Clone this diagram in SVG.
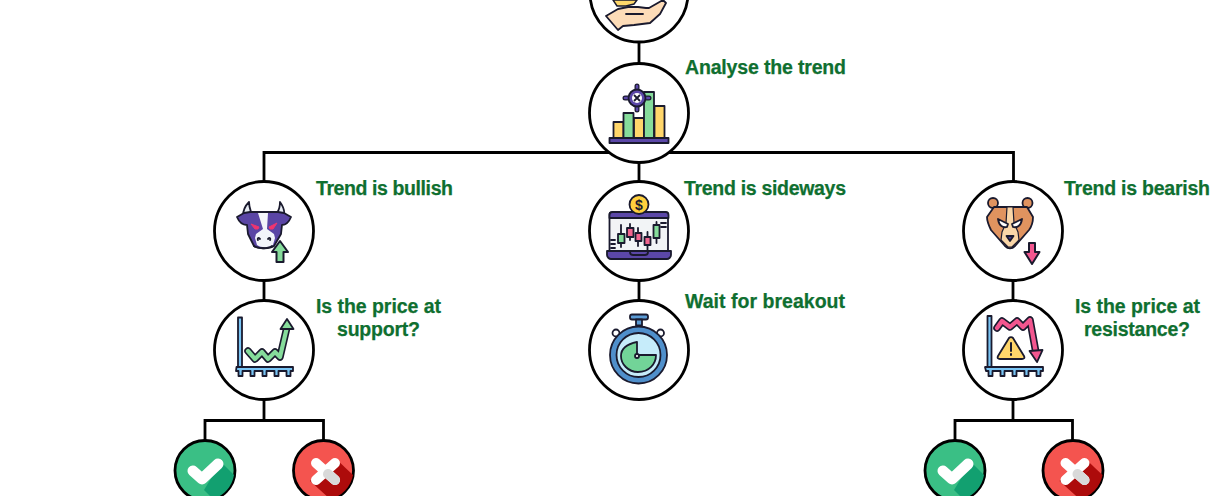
<svg xmlns="http://www.w3.org/2000/svg" width="1224" height="496" viewBox="0 0 1224 496">
<style>
.c{fill:#fff;stroke:#000;stroke-width:2.800}
.l{fill:none;stroke:#000;stroke-width:2.800}
.t{font-family:"Liberation Sans",Arial,sans-serif;font-weight:700;font-size:19.500px;fill:#0f6f30;stroke:#0f6f30;stroke-width:.25}
.o{stroke:#1a1a2e;stroke-width:1.800;stroke-linejoin:round;stroke-linecap:round}
.n{fill:none}
</style>
<rect width="1224" height="496" fill="#fff"/>
<g id="connectors">
<path class="l" d="M639 40V66M639 160V184M264 181V152.500H1013.500V181M264 279V302M639 279V302M1013 279V302M264 398V420M205 446V420.500H323.500V446M1013 398V420M955 446V420.500H1072.500V446"/>
</g>
<g id="node-top">
<circle class="c" cx="639" cy="-7" r="49"/>
<path d="M613 0h24l-3 4-8 2h-9z" fill="#ffd86b" stroke="#1a1a2e" stroke-width="1.500"/>
<path class="o" d="M606 16l12-7 10-2h10l8 1h3l14-8 3 3-6 11-10 9-16 2-11 1-5 4z" fill="#fddcb8"/>
<path class="o n" d="M626 14h17"/>
</g>
<g id="node-analyse">
<circle class="c" cx="639" cy="113" r="49.500"/>
<rect class="o" x="613.500" y="122" width="10" height="17" fill="#ffd66b"/>
<rect class="o" x="623.500" y="113" width="10" height="26" fill="#86dc9b"/>
<rect class="o" x="634" y="118" width="10" height="21" fill="#ffd66b"/>
<rect class="o" x="644" y="92" width="10" height="47" fill="#86dc9b"/>
<rect class="o" x="654.500" y="106" width="10" height="33" fill="#ffd66b"/>
<rect class="o" x="609.500" y="138" width="59" height="5" fill="#5b47a8"/>
<path d="M637 86v24M625 98h24" stroke="#1a1a2e" stroke-width="5" stroke-linecap="round"/>
<path d="M637 86v24M625 98h24" stroke="#5b47a8" stroke-width="2.500" stroke-linecap="round"/>
<circle class="o" cx="637" cy="98" r="8.500" fill="#5b47a8"/>
<circle cx="637" cy="98" r="5" fill="#fff"/>
<path d="M634 95l6 6M640 95l-6 6" stroke="#1a1a2e" stroke-width="1.800"/>
</g>
<g id="node-bullish">
<circle class="c" cx="264" cy="231" r="49.500"/>
<path class="o" d="M243 216c0-6 2-10 6-14 0 4 1 7 2 10l1 5zM277 213c2-3 3-7 3-11 3 4 5 9 4 14l-5 2z" fill="#e9eef5"/>
<path class="o" d="M250 212L278 212 284 213 291 217C289 222 286 225 282 225L281 234 274 246C270 249 258 249 254 246L248 234 247 225C243 225 239 222 237 217L244 213Z" fill="#5a45a5"/>
<path d="M258 213h10l-1 16 7 5 1 4-2 7c-4 3-12 3-16 0l-2-7 1-4 7-5z" fill="#f2f4fa"/>
<path class="o n" d="M254 246c4 3 14 3 18 0M258 240c-1-2 1-3 2-1M268 239c1-2 3-1 2 1"/>
<path d="M251 224l8 3-1 2h-3zM277 223l-8 4 1 2h3z" fill="#f0356f" stroke="#f0356f" stroke-width="1"/>
<path d="M280 241l8 11h-4.500v10h-7v-10H272z" fill="#86dc9b" stroke="#1a1a2e" stroke-width="2" stroke-linejoin="round"/>
</g>
<g id="node-support">
<circle class="c" cx="264" cy="350" r="49.500"/>
<path class="o" d="M238 317.500h4v53h-4z" fill="#79c5f5"/>
<path class="o" d="M236.500 367h56.500v4h-2.500v5h-4v-5h-8v5h-4v-5h-8v5h-4v-5h-8v5h-4v-5h-8v5h-4v-5h-2.500z" fill="#79c5f5"/>
<path class="n" d="M248 351l7 8 7-7 6 7 7-7 5 5 7-30" stroke="#1a1a2e" stroke-width="7.500" stroke-linejoin="round" stroke-linecap="round"/>
<path class="n" d="M248 351l7 8 7-7 6 7 7-7 5 5 7-30" stroke="#86dc9b" stroke-width="4.200" stroke-linejoin="round" stroke-linecap="round"/>
<path class="o" d="M287 319l6.500 10h-13z" fill="#86dc9b"/>
</g>
<g id="node-sideways">
<circle class="c" cx="639" cy="231" r="49.500"/>
<rect class="o" x="609.500" y="212.500" width="58.500" height="40" rx="2" fill="#f2f4f6"/>
<path class="o" d="M609.500 215c0-2 1-3 3-3h53c2 0 3 1 3 3v3h-59z" fill="#5b47a8"/>
<path class="o" d="M607 251h64v4c0 2-2 4-4 4h-56c-2 0-4-2-4-4z" fill="#5b47a8"/>
<path class="o n" d="M630 252c0 2 1 3 3 3h12c2 0 3-1 3-3"/>
<circle class="o" cx="639" cy="204.500" r="9.500" fill="#ffd03d"/>
<text x="639" y="210" text-anchor="middle" font-family="Liberation Sans,sans-serif" font-weight="700" font-size="14" fill="#1a1a2e">$</text>
<path class="o n" d="M621 225v22M630 224v16M638 228v18M647.500 232v18M656.500 222v21M611 240h4M611 244h4M611 248h4M661 223h5M661 227h5"/>
<rect class="o" x="618" y="234" width="6.500" height="9" fill="#86dc9b"/>
<rect class="o" x="627" y="228" width="6.500" height="9" fill="#f2658f"/>
<rect class="o" x="635.500" y="233" width="6" height="8" fill="#f2658f"/>
<rect class="o" x="644.500" y="237" width="6" height="8" fill="#f2658f"/>
<rect class="o" x="653.500" y="225" width="6" height="13" fill="#86dc9b"/>
</g>
<g id="node-breakout">
<circle class="c" cx="639" cy="350" r="49.500"/>
<rect class="o" x="630" y="314.500" width="18" height="5" rx="2" fill="#5b9bd5"/>
<rect class="o" x="636" y="319.500" width="6" height="6" fill="#5b9bd5"/>
<circle class="o" cx="616" cy="333" r="3.500" fill="#fff"/>
<circle class="o" cx="660.500" cy="333" r="3.500" fill="#fff"/>
<circle class="o" cx="638.500" cy="355" r="28.500" fill="#4f8fcb"/>
<circle class="o" cx="638.500" cy="355" r="22" fill="#c6ecfa"/>
<path class="o" d="M637 342v13h19c0 9-7 17-18 17-10 0-17-8-17-16 0-7 6-12 16-14z" fill="#72d498"/>
<circle class="o" cx="637" cy="356" r="2" fill="#fff"/>
</g>
<g id="node-bearish">
<circle class="c" cx="1013" cy="231" r="49.500"/>
<circle class="o" cx="993" cy="203" r="5" fill="#e0935f"/>
<circle class="o" cx="1027.500" cy="203" r="5" fill="#e0935f"/>
<path class="o" d="M994 207h33l6 10c0 5-1 9-4 13l-14 16c-3 3-7 3-10 0l-14-16c-2-4-4-8-4-13z" fill="#e0935f"/>
<path d="M1007 207h6l1 16 4 9 1 8-7 7h-4l-7-7 1-8 4-9z" fill="#fad6a8" stroke="#1a1a2e" stroke-width="1.200" stroke-linejoin="round"/>
<path class="o" d="M998 219l10 5-1 3c-4 1-8-1-9-8zM1022 219l-10 5 1 3c4 1 8-1 9-8z" fill="#fff"/>
<path class="o" d="M1006.500 236h7l-3.500 5z" fill="#473a8f"/>
<path d="M1029 243h6v9h4.500l-7.500 12-7.500-12h4.500z" fill="#f2568f" stroke="#1a1a2e" stroke-width="2" stroke-linejoin="round"/>
</g>
<g id="node-resistance">
<circle class="c" cx="1013" cy="350" r="49.500"/>
<path class="o" d="M987.500 316h4v54h-4z" fill="#79c5f5"/>
<path class="o" d="M985 367h58v4h-2.500v5h-4v-5h-8v5h-4v-5h-8v5h-4v-5h-8v5h-4v-5h-8v5h-4v-5h-2.500z" fill="#79c5f5"/>
<path class="n" d="M997 328l5-7 8 6 7-6 6 6 7-7 6 33" stroke="#1a1a2e" stroke-width="7.500" stroke-linejoin="round" stroke-linecap="round"/>
<path class="n" d="M997 328l5-7 8 6 7-6 6 6 7-7 6 33" stroke="#f2568f" stroke-width="4.200" stroke-linejoin="round" stroke-linecap="round"/>
<path class="o" d="M1029.500 351l13-1-5.500 12z" fill="#f2568f"/>
<path class="o" d="M1009 338l-11 18c-1 2 0 3 2 3h22c2 0 3-1 2-3l-11-18c-1-1-3-1-4 0z" fill="#ffd66b"/>
<path d="M1011 343v8M1011 354v1" stroke="#1a1a2e" stroke-width="2" stroke-linecap="round"/>
</g>
<g id="node-yes-left">
<circle cx="205" cy="470.500" r="30" fill="#3abf85" stroke="#000" stroke-width="2.800"/>
<path d="M204 490l17-28 13 13A30 30 0 0 1 213 499z" fill="#12a070"/>
<path d="M193 471l9 8 16-15" fill="none" stroke="#fff" stroke-width="11" stroke-linecap="round" stroke-linejoin="round"/>
</g>
<g id="node-no-left">
<circle cx="323.500" cy="470.500" r="30" fill="#f4544f" stroke="#000" stroke-width="2.800"/>
<path d="M335 458l18 17a30 30 0 0 1-23 24l-20-18z" fill="#ad0b0b"/>
<path d="M316 463l19 17M335 463l-19 17" fill="none" stroke="#fff" stroke-width="10" stroke-linecap="round"/>
<path d="M328 474l7 6" fill="none" stroke="#d9d9d9" stroke-width="10" stroke-linecap="round"/>
</g>
<g id="node-yes-right">
<circle cx="955" cy="470.500" r="30" fill="#3abf85" stroke="#000" stroke-width="2.800"/>
<path d="M954 490l17-28 13 13A30 30 0 0 1 963 499z" fill="#12a070"/>
<path d="M943 471l9 8 16-15" fill="none" stroke="#fff" stroke-width="11" stroke-linecap="round" stroke-linejoin="round"/>
</g>
<g id="node-no-right">
<circle cx="1073" cy="470.500" r="30" fill="#f4544f" stroke="#000" stroke-width="2.800"/>
<path d="M1084.500 458l18 17a30 30 0 0 1-23 24l-20-18z" fill="#ad0b0b"/>
<path d="M1065.500 463l19 17M1084.500 463l-19 17" fill="none" stroke="#fff" stroke-width="10" stroke-linecap="round"/>
<path d="M1077.500 474l7 6" fill="none" stroke="#d9d9d9" stroke-width="10" stroke-linecap="round"/>
</g>
<g id="labels">
<text class="t" x="685" y="73.500" textLength="161">Analyse the trend</text>
<text class="t" x="316" y="194.500" textLength="137">Trend is bullish</text>
<text class="t" x="684" y="194.500" textLength="162">Trend is sideways</text>
<text class="t" x="1064" y="194.500" textLength="146">Trend is bearish</text>
<text class="t" x="685" y="307.500" textLength="160">Wait for breakout</text>
<text class="t" x="316" y="312.500" textLength="125">Is the price at</text>
<text class="t" x="337" y="335.500" textLength="83">support?</text>
<text class="t" x="1075" y="312.500" textLength="125">Is the price at</text>
<text class="t" x="1084" y="335.500" textLength="106">resistance?</text>
</g>
</svg>
